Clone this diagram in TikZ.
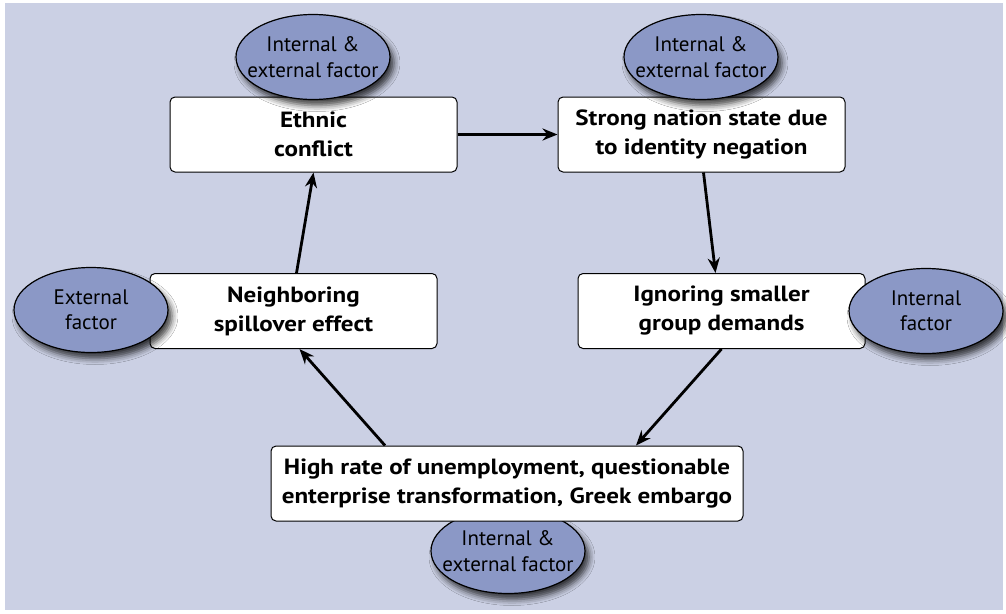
\documentclass[tikz,border=0pt]{standalone}
\usepackage{fontspec}
\setmainfont{PT Sans}
\newfontfamily\stagefont{PT Sans}[FakeStretch=1.14]
\usetikzlibrary{shapes.geometric,shadows.blur,arrows.meta}
\definecolor{panel}{RGB}{203,208,228}
\definecolor{factorfill}{RGB}{139,152,198}
\begin{document}
\begin{tikzpicture}[x=1pt,y=-1pt,
  stagebox/.style={draw=black, line width=1pt, fill=white, rounded corners=5pt,
    minimum width=287pt, minimum height=75pt, align=center, inner sep=0pt,
    font=\stagefont\bfseries\fontsize{22}{29}\selectfont},
  factor/.style={ellipse, draw=black, line width=1.2pt, fill=factorfill,
    minimum width=154pt, minimum height=85pt, inner xsep=-12pt, inner ysep=4pt,
    align=center, font=\fontsize{21}{25.5}\selectfont,
    blur shadow={shadow xshift=4pt, shadow yshift=-6pt, shadow blur radius=6pt, shadow opacity=75}},
  flow/.style={-{Stealth[length=15pt,width=12pt]}, line width=2.8pt}
]
% canvas and panel
\useasboundingbox (0,0) rectangle (1006,613);
\fill[white] (0,0) rectangle (1006,613);
\fill[panel] (5,3) rectangle (1003,610);

% factor under the bottom box
\node[factor] (fEcon) at (508,551) {Internal \&\\external factor};

% stages of the cycle
\node[stagebox] (ethnic) at (313.5,134.5) {Ethnic\\conflict};
\node[stagebox] (nation) at (701.5,134.5) {Strong nation state due\\to identity negation};
\node[stagebox] (spill) at (293.5,311) {Neighboring\\spillover effect};
\node[stagebox] (ignore) at (721.5,311) {Ignoring smaller\\group demands};
\node[stagebox, minimum width=472pt] (econ) at (507,483.5)
  {High rate of unemployment, questionable\\enterprise transformation, Greek embargo};

% factor labels
\node[factor] (fEthnic) at (313,57) {Internal \&\\external factor};
\node[factor] (fNation) at (701,57) {Internal \&\\external factor};
\node[factor] (fSpill) at (91,310) {External\\factor};
\node[factor] (fIgnore) at (926,311) {Internal\\factor};

% cycle arrows
\draw[flow] (ethnic.east) -- (nation.west);
\draw[flow] ([xshift=2pt]nation.south) -- ([xshift=-6pt]ignore.north);
\draw[flow] (ignore.south) -- ([xshift=129pt]econ.north);
\draw[flow] ([xshift=-122pt]econ.north) -- ([xshift=6pt]spill.south);
\draw[flow] ([xshift=3pt]spill.north) -- (ethnic.south);
\end{tikzpicture}
\end{document}
